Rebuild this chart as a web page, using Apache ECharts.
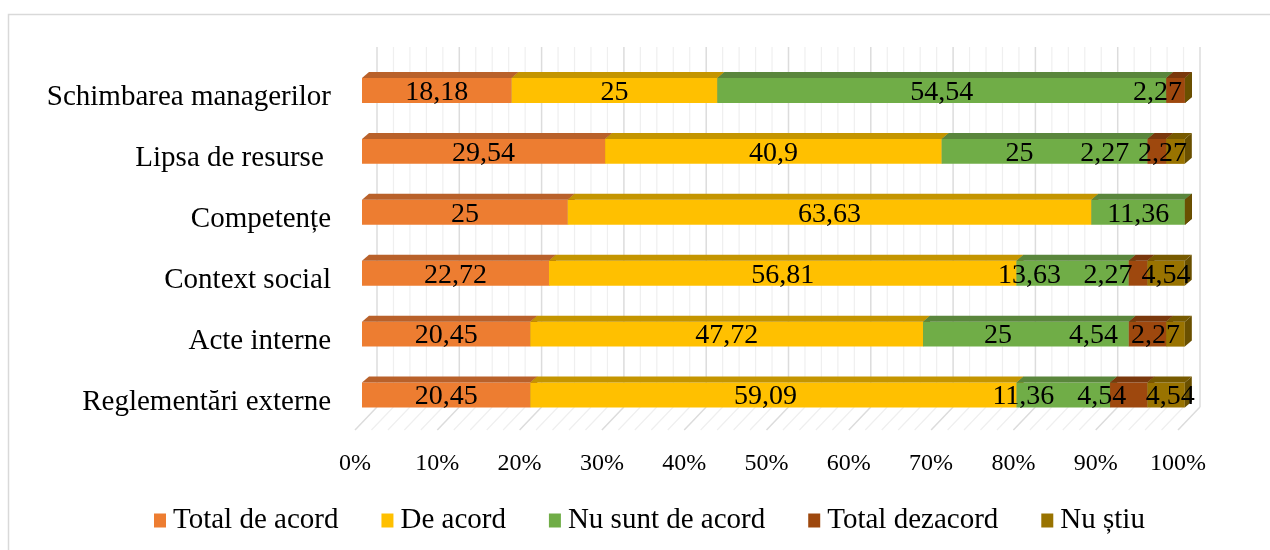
<!DOCTYPE html>
<html>
<head>
<meta charset="utf-8">
<script src="https://cdn.jsdelivr.net/npm/echarts@6/dist/echarts.min.js"></script>
<style>
  html, body { margin: 0; padding: 0; background: #ffffff; }
  #chart { width: 1270px; height: 550px; }
</style>
</head>
<body>
<div id="chart"></div>
<script>
// Categories, top to bottom
const categories = [
  'Schimbarea managerilor',
  'Lipsa de resurse ',
  'Competențe',
  'Context social',
  'Acte interne',
  'Reglementări externe'
];

// Percent answers per category
const totalDeAcord   = [18.18, 29.54, 25.00, 22.72, 20.45, 20.45];
const deAcord        = [25.00, 40.90, 63.63, 56.81, 47.72, 59.09];
const nuSuntDeAcord  = [54.54, 25.00, 11.36, 13.63, 25.00, 11.36];
const totalDezacord  = [ 2.27,  2.27,  0.00,  2.27,  4.54,  4.54];
const nuStiu         = [ 0.00,  2.27,  0.00,  4.54,  2.27,  4.54];

const seriesNames = ['Total de acord', 'De acord', 'Nu sunt de acord', 'Total dezacord', 'Nu știu'];
const seriesValues = [totalDeAcord, deAcord, nuSuntDeAcord, totalDezacord, nuStiu];

// X axis ticks (percent of the total)
const xTickLabels = ['0%', '10%', '20%', '30%', '40%', '50%', '60%', '70%', '80%', '90%', '100%'];

// Horizontal nudges (px) for labels that sit in crowded segments: row -> series -> dx
const labelShift = {
  0: { 3: -18 },
  1: { 2: -25, 3: -52, 4: -13 },
  3: { 2: -43, 3: -30 },
  4: { 2: -28, 3: -54, 4: -20 },
  5: { 1: -8, 2: -40, 3: -27, 4: 4 }
};

const FONT = '"Liberation Serif", "Times New Roman", serif';

// Face colours of the extruded bars: front, top, right end
const faces = [
  { front: '#ED7D31', top: '#B9612A', side: '#A4531F' },
  { front: '#FFC000', top: '#C49500', side: '#A88000' },
  { front: '#70AD47', top: '#5A863C', side: '#4C7433' },
  { front: '#9E480E', top: '#7A380C', side: '#6A300A' },
  { front: '#997300', top: '#775A00', side: '#6A5000' }
];

// Depth of the bar extrusion
const DX = 7, DY = 6;

// Stack the values into [start, end, row] spans
const spans = seriesValues.map(() => []);
const labelItems = [];
categories.forEach((c, r) => {
  let acc = 0;
  seriesValues.forEach((vals, s) => {
    const v = vals[r];
    spans[s].push([acc, acc + v, r]);
    if (v > 0) {
      const shift = (labelShift[r] && labelShift[r][s]) || 0;
      labelItems.push([acc + v / 2, r, v, shift]);
    }
    acc += v;
  });
});

const chart = echarts.init(document.getElementById('chart'), null, { renderer: 'canvas' });

const barSeries = seriesNames.map((name, s) => ({
  name: name,
  type: 'custom',
  z: 3 + s,
  itemStyle: { color: faces[s].front },
  encode: { x: [0, 1], y: 2 },
  data: spans[s],
  renderItem: function (params, api) {
    const row = api.value(2);
    const p0 = api.coord([api.value(0), row]);
    const p1 = api.coord([api.value(1), row]);
    const h = api.size([0, 1])[1] * 0.41;
    const top = p0[1] - h / 2;
    const bot = p0[1] + h / 2;
    const x0 = p0[0], x1 = p1[0];
    const f = faces[s];
    return {
      type: 'group',
      children: [
        { type: 'rect', shape: { x: x0, y: top, width: x1 - x0, height: h }, style: { fill: f.front } },
        { type: 'polygon', shape: { points: [[x0, top], [x0 + DX, top - DY], [x1 + DX, top - DY], [x1, top]] }, style: { fill: f.top } },
        { type: 'polygon', shape: { points: [[x1, top], [x1 + DX, top - DY], [x1 + DX, bot - DY], [x1, bot]] }, style: { fill: f.side } }
      ]
    };
  }
}));

// Back wall and floor gridlines, every 2 %, darker every 10 %
const wallTicks = [];
for (let v = 0; v <= 100; v += 2) wallTicks.push([v, 0]);

const wallSeries = {
  name: 'wall',
  type: 'custom',
  z: 1,
  silent: true,
  encode: { x: 0, y: 1 },
  data: wallTicks,
  renderItem: function (params, api) {
    const v = api.value(0);
    const x = api.coord([v, 0])[0];
    const cs = params.coordSys;
    const wallTop = cs.y - 13;
    const floorBack = cs.y + cs.height - 18.5;
    const floorFront = cs.y + cs.height + 4.5;
    const major = v % 10 === 0;
    const stroke = major ? '#dcdcdc' : '#efefef';
    const lw = major ? 1.5 : 1.2;
    return {
      type: 'group',
      children: [
        { type: 'line', shape: { x1: x + 15, y1: wallTop, x2: x + 15, y2: floorBack }, style: { stroke: stroke, lineWidth: lw } },
        { type: 'line', shape: { x1: x + 15, y1: floorBack, x2: x - 7, y2: floorFront }, style: { stroke: stroke, lineWidth: lw } }
      ]
    };
  }
};

const labelSeries = {
  name: 'values',
  type: 'custom',
  z: 20,
  silent: true,
  encode: { x: 0, y: 1 },
  data: labelItems,
  renderItem: function (params, api) {
    const p = api.coord([api.value(0), api.value(1)]);
    const txt = String(api.value(2)).replace('.', ',');
    return {
      type: 'text',
      style: {
        text: txt,
        x: p[0] + api.value(3),
        y: p[1] + 2,
        align: 'center',
        verticalAlign: 'middle',
        fill: '#000000',
        font: '28px ' + FONT
      }
    };
  }
};

chart.setOption({
  animation: false,
  backgroundColor: '#ffffff',
  color: faces.map(f => f.front),
  graphic: [{
    type: 'rect',
    left: 6, top: 12,
    shape: { width: 1300, height: 600 },
    style: { fill: 'none', stroke: '#d9d9d9', lineWidth: 1.5 },
    silent: true
  }],
  grid: { left: 362, right: 85, top: 60, bottom: 124.5 },
  xAxis: {
    type: 'value',
    min: 0, max: 100, interval: 10,
    axisLine: { show: false },
    axisTick: { show: false },
    splitLine: { show: false },
    axisLabel: {
      margin: 26,
      padding: [0, 14, 0, 0],
      color: '#000000',
      fontFamily: FONT,
      fontSize: 24,
      formatter: function (v) { return xTickLabels[Math.round(v / 10)]; }
    }
  },
  yAxis: {
    type: 'category',
    inverse: true,
    data: categories,
    axisLine: { show: false },
    axisTick: { show: false },
    splitLine: { show: false },
    axisLabel: {
      margin: 31,
      color: '#000000',
      fontFamily: FONT,
      fontSize: 29,
      formatter: function (v) { return '{c|' + v + '}'; },
      rich: {
        c: { fontFamily: FONT, fontSize: 29, color: '#000000', padding: [14, 0, 0, 0] }
      }
    }
  },
  legend: {
    data: seriesNames,
    left: 149,
    top: 501,
    icon: 'rect',
    itemWidth: 12,
    itemHeight: 14,
    itemGap: 43,
    textStyle: { color: '#000000', fontFamily: FONT, fontSize: 29, padding: [0, 0, 0, 2] }
  },
  series: [wallSeries].concat(barSeries, [labelSeries])
});
</script>
</body>
</html>
